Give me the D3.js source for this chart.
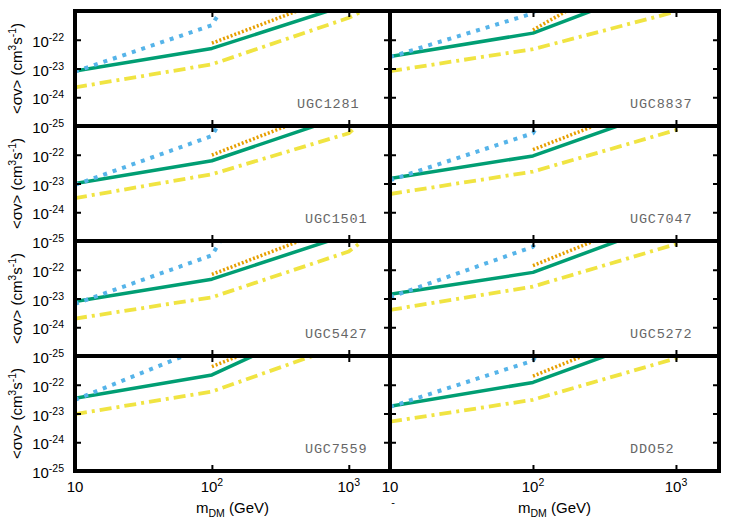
<!DOCTYPE html>
<html>
<head>
<meta charset="utf-8">
<script src="https://cdn.jsdelivr.net/npm/d3@7"></script>
<style>
  body { margin: 0; background: #fff; }
  svg { display: block; }
  text { font-family: "Liberation Sans", Arial, sans-serif; }
</style>
</head>
<body>
<svg id="chart" width="750" height="525"></svg>
<script>
// galaxies, one panel each (row by row, left then right)
const galaxies = ['UGC1281', 'UGC8837', 'UGC1501', 'UGC7047', 'UGC5427', 'UGC5272', 'UGC7559', 'DDO52'];

// DM masses (GeV) where the limits are given
const massesBlue = [10, 100, 1000];
const massesOrange = [100, 1000];
const massesGreen = [10, 100, 1000];
const massesYellow = [10, 100, 1000, 10000];

// <sigma v> limits (cm^3 s^-1), one row per galaxy
const blueVals = [
  [7.8e-24, 3.2e-22, 3e-14],
  [2.5e-23, 8.3e-22, 1e-13],
  [8.9e-24, 4.5e-22, 5e-14],
  [1.3e-23, 5.6e-22, 6e-14],
  [6.5e-24, 3.2e-22, 3e-14],
  [1.1e-23, 6.3e-22, 6e-14],
  [3.0e-23, 2.5e-21, 2.5e-13],
  [1.7e-23, 6.9e-22, 6e-14]
];
const orangeVals = [
  [7.6e-23, 4.8e-21],
  [2.2e-22, 1.4e-19],
  [9.8e-23, 6.9e-21],
  [1.5e-22, 1.3e-20],
  [6.9e-23, 4.5e-21],
  [1.4e-22, 1.4e-20],
  [4.3e-22, 3.2e-20],
  [2.0e-22, 2.0e-20]
];
const greenVals = [
  [8.1e-24, 5.0e-23, 1.7e-21],
  [2.6e-23, 1.7e-22, 1.3e-20],
  [1.0e-23, 6.2e-23, 2.5e-21],
  [1.5e-23, 9.1e-23, 5.2e-21],
  [7.8e-24, 4.7e-23, 1.7e-21],
  [1.4e-23, 8.1e-23, 5.6e-21],
  [3.4e-23, 2.2e-22, 3.5e-20],
  [1.8e-23, 1.2e-22, 7.8e-21]
];
const yellowVals = [
  [2.2e-24, 1.4e-23, 5.8e-22, 1.3e-19],
  [8.1e-24, 4.7e-23, 9.5e-22, 3.2e-18],
  [3.1e-24, 2.1e-23, 5.6e-22, 1e-17],
  [4.3e-24, 2.6e-23, 7.2e-22, 2.5e-18],
  [2.0e-24, 1.1e-23, 4.3e-22, 2e-18],
  [4.0e-24, 2.6e-23, 7.8e-22, 2.5e-18],
  [9.5e-24, 5.8e-23, 2.8e-21, 1e-17],
  [5.2e-24, 3.0e-23, 8.3e-22, 2.5e-18]
];

const xTicks = [10, 100, 1000];
const xTickLabels = [['10', ''], ['10', '2'], ['10', '3']];
const yTicks = [1e-25, 1e-24, 1e-23, 1e-22, 1e-21];
const yTickLabels = [['10', '-25'], ['10', '-24'], ['10', '-23'], ['10', '-22']];

const svg = d3.select('#chart');

const cols = [{ x0: 75, x1: 390 }, { x0: 390, x1: 719 }];
const top0 = 11, rowH = 115;

const styles = [
  { vals: yellowVals, m: massesYellow, color: '#F0E442', dash: '12,5,3,5', w: 3.8 },
  { vals: greenVals, m: massesGreen, color: '#009E73', dash: null, w: 3.5 },
  { vals: orangeVals, m: massesOrange, color: '#E69F00', dash: '2,2', w: 3.5 },
  { vals: blueVals, m: massesBlue, color: '#56B4E9', dash: '4,6', w: 4 }
];

galaxies.forEach((name, i) => {
  const c = i % 2, r = Math.floor(i / 2);
  const col = cols[c];
  const top = top0 + r * rowH;
  const x = d3.scaleLog().domain([10, 2000]).range([col.x0, col.x1]);
  const y = d3.scaleLog().domain([1e-25, 1e-21]).range([top + rowH, top]);

  const g = svg.append('g');
  const clipId = 'clip' + i;
  g.append('clipPath').attr('id', clipId)
    .append('rect')
    .attr('x', col.x0).attr('y', top - 2)
    .attr('width', col.x1 - col.x0).attr('height', rowH + 2);

  const lines = g.append('g').attr('clip-path', `url(#${clipId})`);
  styles.forEach(s => {
    const pts = s.m.map((m, k) => ({ m: m, v: s.vals[i][k] }));
    lines.append('path')
      .datum(pts)
      .attr('fill', 'none')
      .attr('stroke', s.color)
      .attr('stroke-width', s.w)
      .attr('stroke-dasharray', s.dash)
      .attr('stroke-linejoin', 'round')
      .attr('d', d3.line().x(d => x(d.m)).y(d => y(d.v)));
  });

  // inward ticks on all four sides
  const tickStyle = sel => {
    sel.select('.domain').remove();
    sel.selectAll('line').attr('stroke', '#000').attr('stroke-width', 2);
    sel.selectAll('text').remove();
  };
  g.append('g').attr('transform', `translate(${col.x0},0)`)
    .call(d3.axisRight(y).tickValues(yTicks).tickSize(6)).call(tickStyle);
  g.append('g').attr('transform', `translate(${col.x1},0)`)
    .call(d3.axisLeft(y).tickValues(yTicks).tickSize(6)).call(tickStyle);
  g.append('g').attr('transform', `translate(0,${top})`)
    .call(d3.axisBottom(x).tickValues(xTicks).tickSize(6)).call(tickStyle);
  g.append('g').attr('transform', `translate(0,${top + rowH})`)
    .call(d3.axisTop(x).tickValues(xTicks).tickSize(6)).call(tickStyle);

  g.append('rect')
    .attr('x', col.x0).attr('y', top)
    .attr('width', col.x1 - col.x0).attr('height', rowH)
    .attr('fill', 'none').attr('stroke', '#000').attr('stroke-width', 4);

  g.append('text')
    .attr('x', c === 0 ? (i === 0 ? 297 : 305) : 630)
    .attr('y', top + 97)
    .attr('fill', '#666')
    .style('font-family', '"Liberation Mono", "Courier New", monospace')
    .style('font-size', '13.5px')
    .style('letter-spacing', '0.8px')
    .text(name);

  if (c === 0) {
    // y tick labels
    yTickLabels.forEach((lab, k) => {
      const t = g.append('text')
        .attr('x', 64).attr('y', y(yTicks[k]) + 7)
        .attr('text-anchor', 'end')
        .style('font-size', '15px');
      t.append('tspan').text(lab[0]);
      t.append('tspan').attr('dy', -6).style('font-size', '10.5px').text(lab[1]);
    });
    // y axis title
    const yl = g.append('text')
      .attr('transform', `translate(22,${top + rowH / 2}) rotate(-90)`)
      .attr('text-anchor', 'middle')
      .style('font-size', '15px');
    yl.append('tspan').text('<σv> (cm');
    yl.append('tspan').attr('dy', -6).style('font-size', '10.5px').text('3');
    yl.append('tspan').attr('dy', 6).text('s');
    yl.append('tspan').attr('dy', -6).style('font-size', '10.5px').text('-1');
    yl.append('tspan').attr('dy', 6).text(')');
  }

  if (r === 3) {
    xTicks.forEach((tv, k) => {
      const t = g.append('text')
        .attr('x', x(tv)).attr('y', 491.5)
        .attr('text-anchor', 'middle')
        .style('font-size', '15px');
      t.append('tspan').text(xTickLabels[k][0]);
      if (xTickLabels[k][1]) t.append('tspan').attr('dy', -6).style('font-size', '10.5px').text(xTickLabels[k][1]);
    });
    const xl = g.append('text')
      .attr('x', (col.x0 + col.x1) / 2).attr('y', 513)
      .attr('text-anchor', 'middle')
      .style('font-size', '15px');
    xl.append('tspan').text('m');
    xl.append('tspan').attr('dy', 4).style('font-size', '10.5px').text('DM');
    xl.append('tspan').attr('dy', -4).text(' (GeV)');
    if (c === 1) {
      g.append('text').attr('x', 393).attr('y', 506)
        .attr('text-anchor', 'middle').style('font-size', '11px').text('-');
    }
  }
});
</script>
</body>
</html>
